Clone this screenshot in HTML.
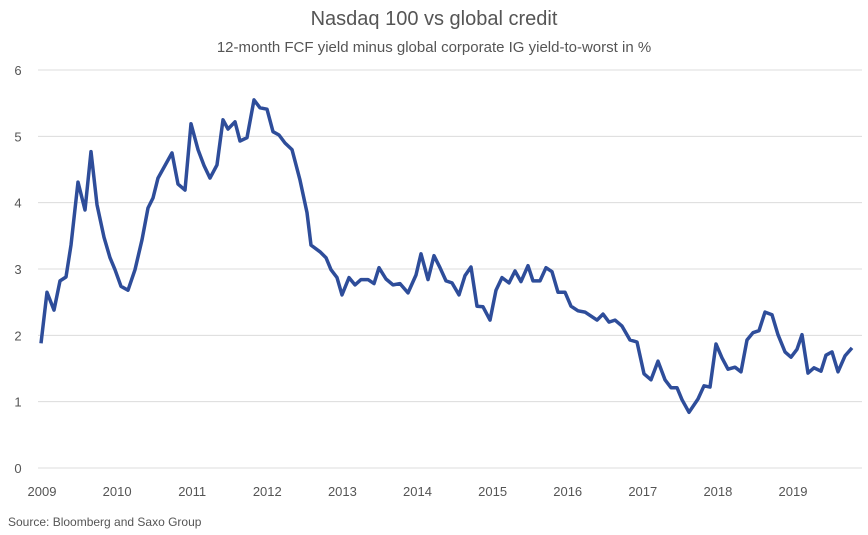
<!DOCTYPE html>
<html><head><meta charset="utf-8"><style>
body{margin:0;background:#fff;font-family:"Liberation Sans",sans-serif}
svg{display:block}
</style></head><body>
<svg id="chart" width="868" height="535">
<text x="434" y="25" text-anchor="middle" font-size="20" fill="#555">Nasdaq 100 vs global credit</text>
<text x="434" y="52" text-anchor="middle" font-size="15" fill="#555">12-month FCF yield minus global corporate IG yield-to-worst in %</text>
<g id="grid"></g><g id="xl"></g>
<path id="line" fill="none" stroke="#2e4d9a" stroke-width="3.5" stroke-linejoin="round"/>
<text x="8" y="526" font-size="12" fill="#555">Source: Bloomberg and Saxo Group</text>
</svg>
<script>
const yTicks=[0,1,2,3,4,5,6];
const xTicks=[2009,2010,2011,2012,2013,2014,2015,2016,2017,2018,2019];
const px=[41,47,54,60,66,71,78,85,91,97,104,110,115,121,128,135,142,148,153,158,172,178,185,191,198,204,210,217,223,228,235,240,247,254,260,267,273,279,285,292,300,307,311,320,326,331,337,342,349,355,361,368,374,379,386,393,400,408,416,421,428,434,440,446,452,459,465,471,477,483,490,496,502,509,515,521,528,533,540,546,552,558,565,571,578,585,591,597,603,609,615,622,630,637,644,651,658,665,671,677,682,689,698,704,710,716,722,728,735,741,747,753,759,765,772,778,785,791,797,802,808,814,821,826,832,838,845,852];
const years=px.map(p=>+(2009+(p-40)/75.1).toFixed(3));
const values=[1.88,2.65,2.38,2.82,2.88,3.36,4.31,3.89,4.77,3.97,3.48,3.17,2.99,2.74,2.68,2.99,3.44,3.92,4.07,4.37,4.75,4.28,4.19,5.19,4.80,4.56,4.37,4.57,5.25,5.11,5.22,4.93,4.98,5.55,5.43,5.41,5.07,5.02,4.90,4.80,4.34,3.85,3.36,3.26,3.17,2.99,2.87,2.61,2.87,2.76,2.84,2.84,2.78,3.02,2.85,2.76,2.78,2.64,2.91,3.23,2.84,3.20,3.02,2.82,2.79,2.61,2.90,3.03,2.44,2.43,2.23,2.68,2.87,2.79,2.97,2.81,3.05,2.82,2.82,3.02,2.96,2.65,2.65,2.44,2.37,2.35,2.29,2.23,2.32,2.20,2.23,2.14,1.93,1.90,1.42,1.33,1.61,1.33,1.21,1.21,1.03,0.84,1.04,1.24,1.22,1.87,1.66,1.49,1.52,1.45,1.93,2.04,2.07,2.35,2.31,2.01,1.75,1.67,1.79,2.01,1.43,1.51,1.46,1.70,1.75,1.45,1.69,1.81];
const X=y=>40+(y-2009)*75.1, Y=v=>468-v*66.33;
const ns="http://www.w3.org/2000/svg";
const g=document.getElementById('grid'), xl=document.getElementById('xl');
yTicks.forEach(t=>{
  const l=document.createElementNS(ns,'line');
  l.setAttribute('x1',38);l.setAttribute('x2',862);l.setAttribute('y1',Y(t));l.setAttribute('y2',Y(t));
  l.setAttribute('stroke','#dcdcdc');l.setAttribute('stroke-width','1');
  
  
  g.appendChild(l);
  const tx=document.createElementNS(ns,'text');
  tx.setAttribute('x',18);tx.setAttribute('y',Y(t)+5);tx.setAttribute('text-anchor','middle');
  tx.setAttribute('font-size','13');tx.setAttribute('fill','#555');tx.textContent=t;
  
  
  g.appendChild(tx);
});
xTicks.forEach(t=>{
  const tx=document.createElementNS(ns,'text');
  tx.setAttribute('x',X(t)+2);tx.setAttribute('y',496);tx.setAttribute('text-anchor','middle');
  tx.setAttribute('font-size','13');tx.setAttribute('fill','#555');tx.textContent=t;
  
  
  xl.appendChild(tx);
});
document.getElementById('line').setAttribute('d',years.map((y,i)=>(i?'L':'M')+X(y).toFixed(1)+','+Y(values[i]).toFixed(1)).join(''));
</script>
</body></html>
